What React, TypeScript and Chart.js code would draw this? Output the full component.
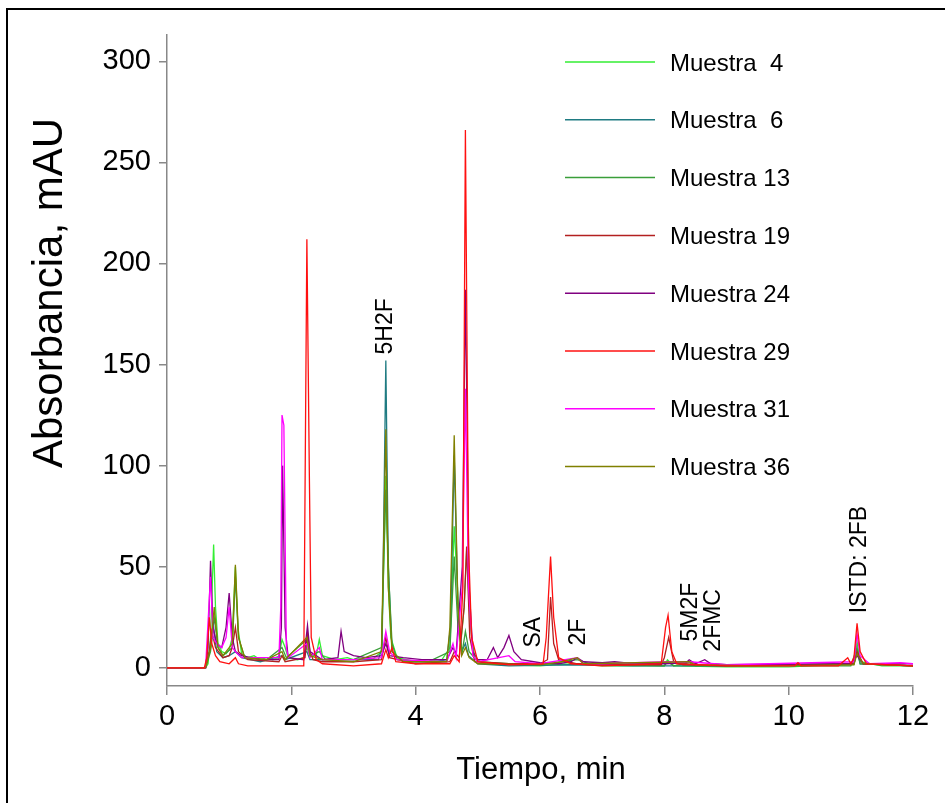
import React, { useEffect, useRef } from "react";
import { Chart, registerables } from "chart.js";

Chart.register(...registerables);

// [time (min), absorbance (mAU)]
const m4: number[][] = [
  [0, 0], [0.62, 0], [0.66, 2], [0.7, 15], [0.75, 61], [0.78, 30], [0.82, 12], [0.88, 8], [0.95, 7], [1.0, 9], [1.05, 15], [1.1, 50], [1.14, 20], [1.2, 7], [1.3, 5], [1.4, 6], [1.5, 4], [1.6, 5], [1.7, 4], [1.8, 5], [1.85, 14], [1.9, 10], [1.95, 5], [2.1, 4], [2.2, 5], [2.25, 10], [2.3, 6], [2.4, 6], [2.45, 14], [2.5, 6], [2.6, 5], [2.7, 4], [2.9, 5], [3.0, 4], [3.2, 5], [3.3, 4], [3.45, 8], [3.52, 95], [3.56, 40], [3.6, 15], [3.7, 5], [4.0, 3], [4.2, 4], [4.4, 3], [4.55, 10], [4.62, 70], [4.68, 35], [4.72, 10], [4.78, 30], [4.82, 58], [4.88, 20], [4.95, 5], [5.1, 2], [5.5, 1.5], [6.0, 1], [6.2, 1.5], [6.6, 2], [7.0, 1], [8.0, 1], [8.05, 4], [8.15, 1], [9.0, 0.5], [10.0, 0.5], [11.05, 2], [11.1, 13], [11.15, 3], [11.5, 1], [12, 1],
];
const m6: number[][] = [
  [0, 0], [0.62, 0], [0.7, 10], [0.75, 20], [0.8, 8], [0.9, 5], [1.0, 6], [1.1, 8], [1.2, 5], [1.5, 3], [1.85, 6], [1.9, 4], [2.25, 8], [2.3, 4], [2.5, 4], [3.0, 4], [3.4, 4], [3.46, 10], [3.52, 152], [3.56, 50], [3.62, 8], [3.8, 3], [4.3, 3], [4.5, 4], [4.56, 20], [4.62, 105], [4.68, 30], [4.74, 8], [4.8, 12], [4.85, 6], [5.0, 2], [5.5, 1], [6.5, 1.5], [7.5, 1], [9, 1], [11.05, 2], [11.1, 8], [11.15, 2], [12, 1],
];
const m13: number[][] = [
  [0, 0], [0.62, 0], [0.7, 8], [0.76, 25], [0.82, 10], [0.9, 6], [1.05, 10], [1.1, 45], [1.15, 15], [1.25, 5], [1.6, 4], [1.85, 10], [1.92, 5], [2.25, 14], [2.3, 6], [2.45, 8], [2.55, 4], [3.0, 4], [3.45, 10], [3.52, 88], [3.57, 43], [3.62, 12], [3.7, 4], [4.2, 3], [4.55, 8], [4.62, 55], [4.68, 20], [4.75, 8], [4.8, 18], [4.86, 8], [5.0, 3], [5.5, 2], [6.2, 2], [6.35, 3], [6.6, 4], [6.8, 2], [8.0, 1], [8.05, 3], [8.15, 1], [8.4, 2.5], [8.5, 1], [11.0, 1], [11.1, 10], [11.15, 2], [12, 1],
];
const m19: number[][] = [
  [0, 0], [0.62, 0], [0.68, 8], [0.72, 18], [0.78, 10], [0.9, 5], [1.0, 6], [1.05, 10], [1.1, 20], [1.15, 8], [1.3, 4], [1.8, 3], [1.85, 6], [1.9, 3], [2.22, 5], [2.26, 17], [2.3, 8], [2.35, 4], [2.5, 3], [3.0, 3], [3.45, 4], [3.52, 15], [3.58, 5], [4.0, 2], [4.55, 3], [4.62, 8], [4.7, 5], [4.78, 30], [4.82, 60], [4.87, 15], [4.95, 3], [5.5, 2], [6.0, 2], [6.12, 4], [6.17, 35], [6.22, 12], [6.3, 4], [6.6, 2], [7, 1.5], [7.95, 1.5], [8.0, 5], [8.07, 15], [8.15, 3], [8.3, 1.5], [9, 1], [11.05, 2], [11.1, 8], [11.2, 2], [12, 1],
];
const m24: number[][] = [
  [0, 0], [0.62, 0], [0.66, 10], [0.7, 53], [0.74, 20], [0.8, 12], [0.88, 10], [0.95, 20], [1.0, 37], [1.05, 15], [1.1, 8], [1.2, 6], [1.5, 4], [1.8, 4], [1.84, 20], [1.86, 100], [1.9, 20], [1.95, 5], [2.2, 4], [2.26, 21], [2.3, 8], [2.5, 4], [2.75, 5], [2.8, 18], [2.85, 8], [3.0, 6], [3.2, 5], [3.45, 6], [3.52, 12], [3.58, 6], [3.8, 5], [4.1, 4], [4.5, 4], [4.6, 10], [4.65, 7], [4.75, 50], [4.8, 187], [4.86, 40], [4.92, 8], [5.0, 4], [5.15, 4], [5.25, 10], [5.32, 5], [5.42, 10], [5.5, 16], [5.58, 8], [5.7, 4], [5.9, 3], [6.0, 2.5], [6.3, 2], [6.5, 3], [6.6, 5], [6.7, 3], [7.0, 2.5], [7.2, 3], [7.5, 2], [8.0, 2], [8.35, 2.5], [8.4, 4], [8.5, 2], [8.65, 4], [8.75, 2], [9, 1.5], [11, 2], [11.1, 6], [11.2, 2], [12, 2],
];
const m29: number[][] = [
  [0, 0], [0.6, 0], [0.64, 5], [0.68, 25], [0.72, 12], [0.78, 6], [0.85, 3], [1.0, 2], [1.1, 5], [1.15, 2], [1.3, 1], [2.2, 1], [2.25, 212], [2.29, 95], [2.32, 15], [2.4, 4], [2.5, 2], [3.0, 1], [3.45, 2], [3.52, 9], [3.56, 5], [3.62, 10], [3.68, 3], [4.0, 2], [4.55, 2], [4.62, 6], [4.7, 3], [4.76, 40], [4.8, 266], [4.85, 60], [4.9, 15], [5.0, 3], [5.5, 1.5], [6.05, 2], [6.1, 15], [6.17, 55], [6.22, 25], [6.3, 5], [6.5, 2], [7, 1], [7.95, 2], [8.02, 20], [8.06, 26], [8.12, 8], [8.2, 2], [9, 1], [10.1, 1], [10.15, 2.5], [10.2, 1], [10.8, 1], [10.95, 5], [11.0, 2], [11.05, 5], [11.1, 22], [11.15, 8], [11.25, 2], [12, 1],
];
const m31: number[][] = [
  [0, 0], [0.62, 0], [0.7, 45], [0.74, 15], [0.8, 12], [0.88, 10], [0.95, 15], [1.0, 30], [1.05, 10], [1.1, 8], [1.2, 5], [1.5, 5], [1.8, 5], [1.83, 30], [1.85, 125], [1.88, 120], [1.92, 10], [1.95, 5], [2.25, 12], [2.3, 5], [2.45, 10], [2.5, 4], [3.0, 4], [3.45, 5], [3.52, 18], [3.58, 8], [3.7, 4], [4.5, 3], [4.6, 12], [4.65, 5], [4.75, 40], [4.8, 138], [4.85, 40], [4.92, 6], [5.0, 3], [5.5, 6], [5.6, 3], [6.0, 2], [6.6, 5], [6.7, 2], [7, 2], [8.05, 3], [8.4, 3], [9, 1.5], [11.05, 3], [11.1, 17], [11.15, 6], [11.3, 2], [11.8, 2.5], [12, 2],
];
const m36: number[][] = [
  [0, 0], [0.62, 0], [0.7, 10], [0.76, 30], [0.82, 10], [0.9, 6], [1.05, 12], [1.1, 51], [1.15, 15], [1.25, 5], [1.6, 4], [1.85, 8], [1.9, 4], [2.25, 15], [2.3, 6], [2.5, 4], [3.0, 3], [3.45, 8], [3.52, 118], [3.56, 40], [3.62, 8], [3.8, 3], [4.5, 3], [4.55, 20], [4.62, 115], [4.68, 30], [4.74, 6], [4.8, 10], [4.86, 5], [5.0, 2], [6.0, 1.5], [6.35, 3], [6.6, 5], [6.7, 2], [8.4, 3], [8.5, 1.5], [9.5, 1], [11.05, 1.5], [11.1, 7], [11.2, 2], [12, 1],
];

const seriesLabels = ["Muestra  4", "Muestra  6", "Muestra 13", "Muestra 19", "Muestra 24", "Muestra 29", "Muestra 31", "Muestra 36"];
const seriesData = [m4, m6, m13, m19, m24, m29, m31, m36];
const seriesColors = ["#33ee33", "#1f7b82", "#3a9e3a", "#b32020", "#800080", "#ff1010", "#ff00ff", "#808000"];

const yTicks = [0, 50, 100, 150, 200, 250, 300];
const xTicks = [0, 2, 4, 6, 8, 10, 12];

const peakLabels = ["5H2F", "SA", "2F", "5M2F", "2FMC", "ISTD: 2FB"];
const peakTimes = [3.5, 5.88, 6.6, 8.41, 8.78, 11.12];
const peakHeights = [155, 10, 11, 13, 8, 27];

const FONT = "'Liberation Sans', Arial, sans-serif";

export default function App() {
  const ref = useRef<HTMLCanvasElement | null>(null);
  useEffect(() => {
    if (!ref.current) return;
    const overlay = {
      id: "overlay",
      afterDraw(chart: any) {
        const ctx = chart.ctx;
        const xs = chart.scales.x;
        const ys = chart.scales.y;
        ctx.save();
        // figure frame
        ctx.strokeStyle = "#000";
        ctx.lineWidth = 2;
        ctx.beginPath();
        ctx.moveTo(7, 803);
        ctx.lineTo(7, 9);
        ctx.lineTo(945, 9);
        ctx.stroke();
        // legend
        ctx.font = `24px ${FONT}`;
        ctx.textBaseline = "middle";
        ctx.textAlign = "left";
        seriesLabels.forEach((lab, i) => {
          const y = 62 + i * 57.8;
          ctx.strokeStyle = seriesColors[i];
          ctx.lineWidth = 1.5;
          ctx.beginPath();
          ctx.moveTo(565, y);
          ctx.lineTo(655, y);
          ctx.stroke();
          ctx.fillStyle = "#000";
          ctx.fillText(lab, 670, y + 2);
        });
        // peak labels
        ctx.font = `23px ${FONT}`;
        peakLabels.forEach((lab, i) => {
          const px = xs.getPixelForValue(peakTimes[i]);
          const py = ys.getPixelForValue(peakHeights[i]);
          ctx.save();
          ctx.translate(px + 1, py);
          ctx.rotate(-Math.PI / 2);
          ctx.textAlign = "left";
          ctx.textBaseline = "middle";
          ctx.fillStyle = "#000";
          ctx.fillText(lab, 0, 0);
          ctx.restore();
        });
        // axis titles
        ctx.fillStyle = "#000";
        ctx.font = `31px ${FONT}`;
        ctx.textAlign = "center";
        ctx.textBaseline = "middle";
        ctx.fillText("Tiempo, min", 541, 770);
        ctx.font = `42px ${FONT}`;
        ctx.save();
        ctx.translate(50, 293);
        ctx.rotate(-Math.PI / 2);
        ctx.fillText("Absorbancia, mAU", 0, 0);
        ctx.restore();
        ctx.restore();
      },
    };
    const chart = new Chart(ref.current, {
      type: "line",
      data: {
        datasets: seriesData.map((d, i) => ({
          label: seriesLabels[i],
          data: d.map((p) => ({ x: p[0], y: p[1] })),
          borderColor: seriesColors[i],
          borderWidth: 1.3,
          pointRadius: 0,
          tension: 0,
          fill: false,
          order: i === 5 ? 0 : 8 - i,
        })),
      },
      options: {
        animation: false,
        responsive: false,
        events: [],
        layout: { padding: { left: 0, top: 35, right: 32, bottom: 0 } },
        plugins: { legend: { display: false }, tooltip: { enabled: false } },
        scales: {
          x: {
            type: "linear",
            min: 0,
            max: 12,
            afterBuildTicks: (s: any) => {
              s.ticks = xTicks.map((v) => ({ value: v }));
            },
            afterFit: (s: any) => {
              s.height = 117;
            },
            ticks: { font: { family: FONT, size: 29 }, color: "#000", padding: 5 },
            grid: { drawOnChartArea: false, drawTicks: true, tickLength: 9, color: "#888", lineWidth: 1.5 },
            border: { color: "#888", width: 1.5 },
          },
          y: {
            type: "linear",
            min: -9,
            max: 313,
            afterBuildTicks: (s: any) => {
              s.ticks = yTicks.map((v) => ({ value: v }));
            },
            afterFit: (s: any) => {
              s.width = 167;
            },
            ticks: { font: { family: FONT, size: 29 }, color: "#000", padding: 8 },
            grid: { drawOnChartArea: false, drawTicks: true, tickLength: 8, color: "#888", lineWidth: 1.5 },
            border: { color: "#888", width: 1.5 },
          },
        },
      },
      plugins: [overlay],
    } as any);
    return () => chart.destroy();
  }, []);
  return (
    <div style={{ position: "absolute", left: 0, top: 0, width: 945, height: 803, background: "#fff" }}>
      <canvas ref={ref} width={945} height={803} style={{ width: 945, height: 803 }} />
    </div>
  );
}
